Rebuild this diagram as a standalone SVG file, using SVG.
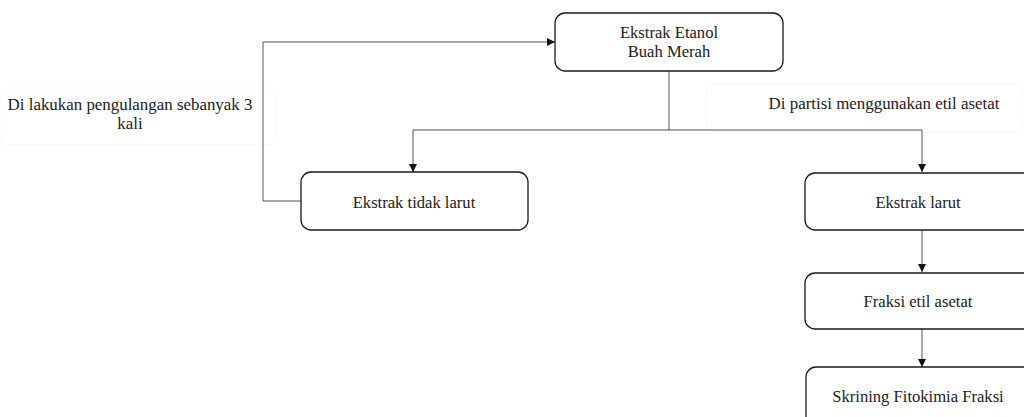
<svg xmlns="http://www.w3.org/2000/svg" width="1024" height="417" viewBox="0 0 1024 417">
<style>
.box{fill:#fff;stroke:#1a1a1a;stroke-width:1.3}
.lbl{fill:#fff;stroke:#f7f7f7;stroke-width:1}
text{font-family:'Liberation Serif','Times New Roman','DejaVu Serif',serif;font-size:16.6px;fill:#222;text-anchor:middle}
.big{font-size:16.9px}
.c{fill:none;stroke:#555;stroke-width:1}
</style>
<defs>
<marker id="ah" viewBox="0 0 10 10" refX="10" refY="5" markerWidth="8" markerHeight="8" markerUnits="userSpaceOnUse" orient="auto">
<path d="M0,0 L10,5 L0,10 z" fill="#111"/>
</marker>
</defs>
<rect width="1024" height="417" fill="#fff"/>
<g id="labels">
<rect class="lbl" x="0" y="88" width="277" height="57" rx="10"/>
<rect class="lbl" x="706" y="84" width="318" height="48" rx="10"/>
<text class="big" x="130" y="110">Di lakukan pengulangan sebanyak 3</text>
<text class="big" x="130" y="129">kali</text>
<text class="big" x="884" y="109">Di partisi menggunakan etil asetat</text>
</g>
<g id="connectors">
<path class="c" d="M669,71 V130"/>
<path class="c" d="M413,130 H922"/>
<path class="c" d="M413,130 V172" marker-end="url(#ah)"/>
<path class="c" d="M922,130 V172" marker-end="url(#ah)"/>
<path class="c" d="M301,201 H263 V42 H555" marker-end="url(#ah)"/>
<path class="c" d="M922,230 V272" marker-end="url(#ah)"/>
<path class="c" d="M922,329 V367" marker-end="url(#ah)"/>
</g>
<g id="n1">
<rect class="box" x="555" y="13" width="228" height="58" rx="10"/>
<text x="669" y="38">Ekstrak Etanol</text>
<text x="669" y="57">Buah Merah</text>
</g>
<g id="n2">
<rect class="box" x="301" y="172" width="227" height="58" rx="10"/>
<text x="414" y="208">Ekstrak tidak larut</text>
</g>
<g id="n3">
<rect class="box" x="805" y="173" width="240" height="57" rx="10"/>
<text x="918" y="208">Ekstrak larut</text>
</g>
<g id="n4">
<rect class="box" x="805" y="273" width="240" height="56" rx="10"/>
<text x="918" y="307">Fraksi etil asetat</text>
</g>
<g id="n5">
<rect class="box" x="806" y="367" width="240" height="60" rx="10"/>
<text x="918" y="402">Skrining Fitokimia Fraksi</text>
</g>
</svg>
